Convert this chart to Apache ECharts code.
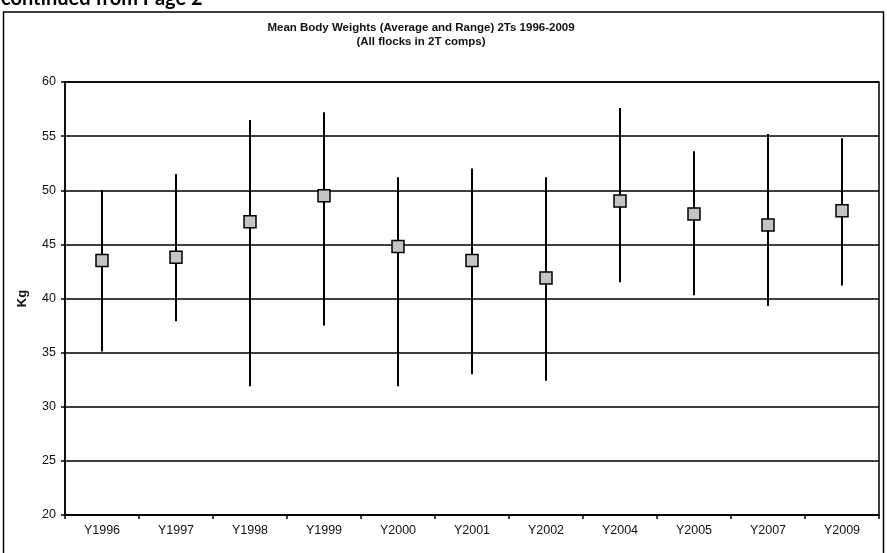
<!DOCTYPE html>
<html>
<head>
<meta charset="utf-8">
<script src="https://cdn.jsdelivr.net/npm/echarts@6/dist/echarts.min.js"></script>
<style>html,body{margin:0;padding:0;background:#fff;}#c{width:887px;height:553px;}</style>
</head>
<body>
<div id="c"></div>
<script>
const categories = ['Y1996','Y1997','Y1998','Y1999','Y2000','Y2001','Y2002','Y2004','Y2005','Y2007','Y2009'];
const meanWeight = [43.5, 43.8, 47.1, 49.5, 44.8, 43.5, 41.9, 49.0, 47.8, 46.8, 48.1];
const highWeight = [50.0, 51.5, 56.5, 57.2, 51.2, 52.0, 51.2, 57.6, 53.6, 55.2, 54.8];
const lowWeight  = [35.1, 37.9, 31.9, 37.5, 31.9, 33.0, 32.4, 41.5, 40.3, 39.3, 41.2];
const yTicks = [20, 25, 30, 35, 40, 45, 50, 55, 60];

const chart = echarts.init(document.getElementById('c'), null, {renderer: 'canvas'});
const font = '"Liberation Sans", Arial, sans-serif';
const rangeData = categories.map((c, i) => [i, lowWeight[i], highWeight[i]]);

chart.setOption({
  animation: false,
  backgroundColor: '#fff',
  textStyle: {fontFamily: font},
  title: {
    text: 'Mean Body Weights (Average and Range) 2Ts 1996-2009\n(All flocks in 2T comps)',
    left: 416, top: 16, textAlign: 'center',
    textStyle: {fontFamily: font, fontSize: 11.5, fontWeight: 'bold', color: '#111', lineHeight: 14}
  },
  graphic: [
    {type: 'rect', shape: {x: 3.5, y: 12, width: 880, height: 560}, style: {fill: 'none', stroke: '#000', lineWidth: 1.5}, silent: true},
    {type: 'text', x: 1, y: -1, style: {text: 'continued from Page 2', fontFamily: 'Lato, "Liberation Sans", sans-serif', fontSize: 20, fontWeight: 'bold', fill: '#000', verticalAlign: 'middle'}}
  ],
  grid: {left: 65, right: 8, top: 82, bottom: 38, show: true, borderColor: '#000', borderWidth: 1.5, backgroundColor: 'transparent'},
  xAxis: {
    type: 'category', data: categories, boundaryGap: true,
    axisLine: {lineStyle: {color: '#000', width: 1.5}},
    axisTick: {show: true, length: 4, lineStyle: {color: '#000', width: 1.5}},
    axisLabel: {color: '#111', fontSize: 12.5, margin: 9, fontFamily: font},
    splitLine: {show: false}
  },
  yAxis: {
    type: 'value', min: yTicks[0], max: yTicks[yTicks.length - 1], interval: 5,
    name: 'Kg', nameLocation: 'middle', nameGap: 36, nameRotate: 90,
    nameTextStyle: {color: '#111', fontSize: 13, fontWeight: 'bold', fontFamily: font},
    axisLine: {show: true, lineStyle: {color: '#000', width: 1.5}},
    axisTick: {show: true, length: 4, lineStyle: {color: '#000', width: 1.5}},
    axisLabel: {color: '#111', fontSize: 12.5, margin: 9, fontFamily: font},
    splitLine: {show: true, lineStyle: {color: '#000', width: 1.5}}
  },
  series: [
    {
      type: 'custom', name: 'Range', data: rangeData, z: 3,
      renderItem: function (params, api) {
        const p1 = api.coord([api.value(0), api.value(1)]);
        const p2 = api.coord([api.value(0), api.value(2)]);
        return {type: 'line', shape: {x1: p1[0], y1: p1[1], x2: p2[0], y2: p2[1]}, style: {stroke: '#000', lineWidth: 2}};
      },
      encode: {x: 0, y: [1, 2]}
    },
    {
      type: 'scatter', name: 'Average', data: meanWeight, z: 5,
      symbol: 'rect', symbolSize: 12,
      itemStyle: {color: '#c4c4c4', borderColor: '#000', borderWidth: 1.5, opacity: 1}
    }
  ]
});
</script>
</body>
</html>
